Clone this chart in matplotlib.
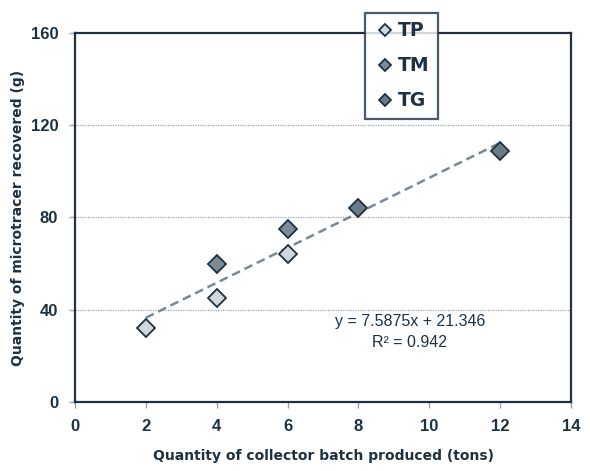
import numpy as np
import matplotlib.pyplot as plt

# data
tp_x = [2, 4, 6]
tp_y = [32, 45, 64]
tm_x = [4, 6]
tm_y = [60, 75]
tg_x = [8, 12]
tg_y = [84, 109]
slope, intercept = 7.5875, 21.346
r2 = 0.942
fit_x = [2, 12]
x_ticks = list(range(0, 15, 2))
y_ticks = list(range(0, 161, 40))

navy = '#1d3142'
plt.rcParams['font.family'] = ['Liberation Sans', 'DejaVu Sans']

fig = plt.figure(figsize=(5.9, 4.71), dpi=100)
ax = fig.add_axes([0.127, 0.1465, 0.841, 0.7835])

for yv in y_ticks[1:-1]:
    ax.axhline(yv, color='#9aa3ab', lw=0.9, ls=(0, (1, 1)), zorder=0)

fx = np.array(fit_x)
ax.plot(fx, slope * fx + intercept, color='#7a8893', lw=1.8, ls=(0, (3.5, 2)), zorder=1)

mk = dict(marker='D', ls='none', markersize=9.5, markeredgecolor=navy, markeredgewidth=1.3, zorder=3)
ax.plot(tp_x, tp_y, markerfacecolor='#d3d7dc', label='TP', **mk)
ax.plot(tm_x, tm_y, markerfacecolor='#7e8b96', label='TM', **mk)
ax.plot(tg_x, tg_y, markerfacecolor='#6c7b88', label='TG', **mk)

ax.set_xlim(0, 14)
ax.set_ylim(0, 160)
ax.set_xticks(x_ticks)
ax.set_yticks(y_ticks)
for s in ax.spines.values():
    s.set_color(navy)
    s.set_linewidth(1.6)
ax.tick_params(colors='#9aa3ab', labelcolor=navy, length=4, width=1, pad=8, labelsize=12)
for lab in ax.get_xticklabels() + ax.get_yticklabels():
    lab.set_fontweight('bold')

ax.set_xlabel('Quantity of collector batch produced (tons)', fontsize=10,
              fontweight='bold', color=navy, family='DejaVu Sans')
ax.set_ylabel('Quantity of microtracer recovered (g)', fontsize=10,
              fontweight='bold', color=navy, family='DejaVu Sans')
ax.xaxis.set_label_coords(0.5, -0.128)
ax.yaxis.set_label_coords(-0.101, 0.5)

ax.text(9.45, 34.7, 'y = %.4fx + %.3f' % (slope, intercept), ha='center', va='center',
        fontsize=11.5, color=navy)
ax.text(9.45, 25.6, 'R² = %.3f' % r2, ha='center', va='center', fontsize=11.5, color=navy)

leg = fig.legend(loc='upper left', bbox_to_anchor=(0.6186, 0.9724), borderaxespad=0,
                 frameon=True, fancybox=False, edgecolor=navy, markerscale=0.6,
                 handlelength=1.2, handletextpad=0.12, labelspacing=0.85, borderpad=0.45,
                 prop={'weight': 'bold', 'size': 13.5, 'family': 'DejaVu Sans'})
leg.get_frame().set_linewidth(1.6)
leg.set_zorder(5)
for t in leg.get_texts():
    t.set_color(navy)

fig.savefig('out.png', dpi=100)
